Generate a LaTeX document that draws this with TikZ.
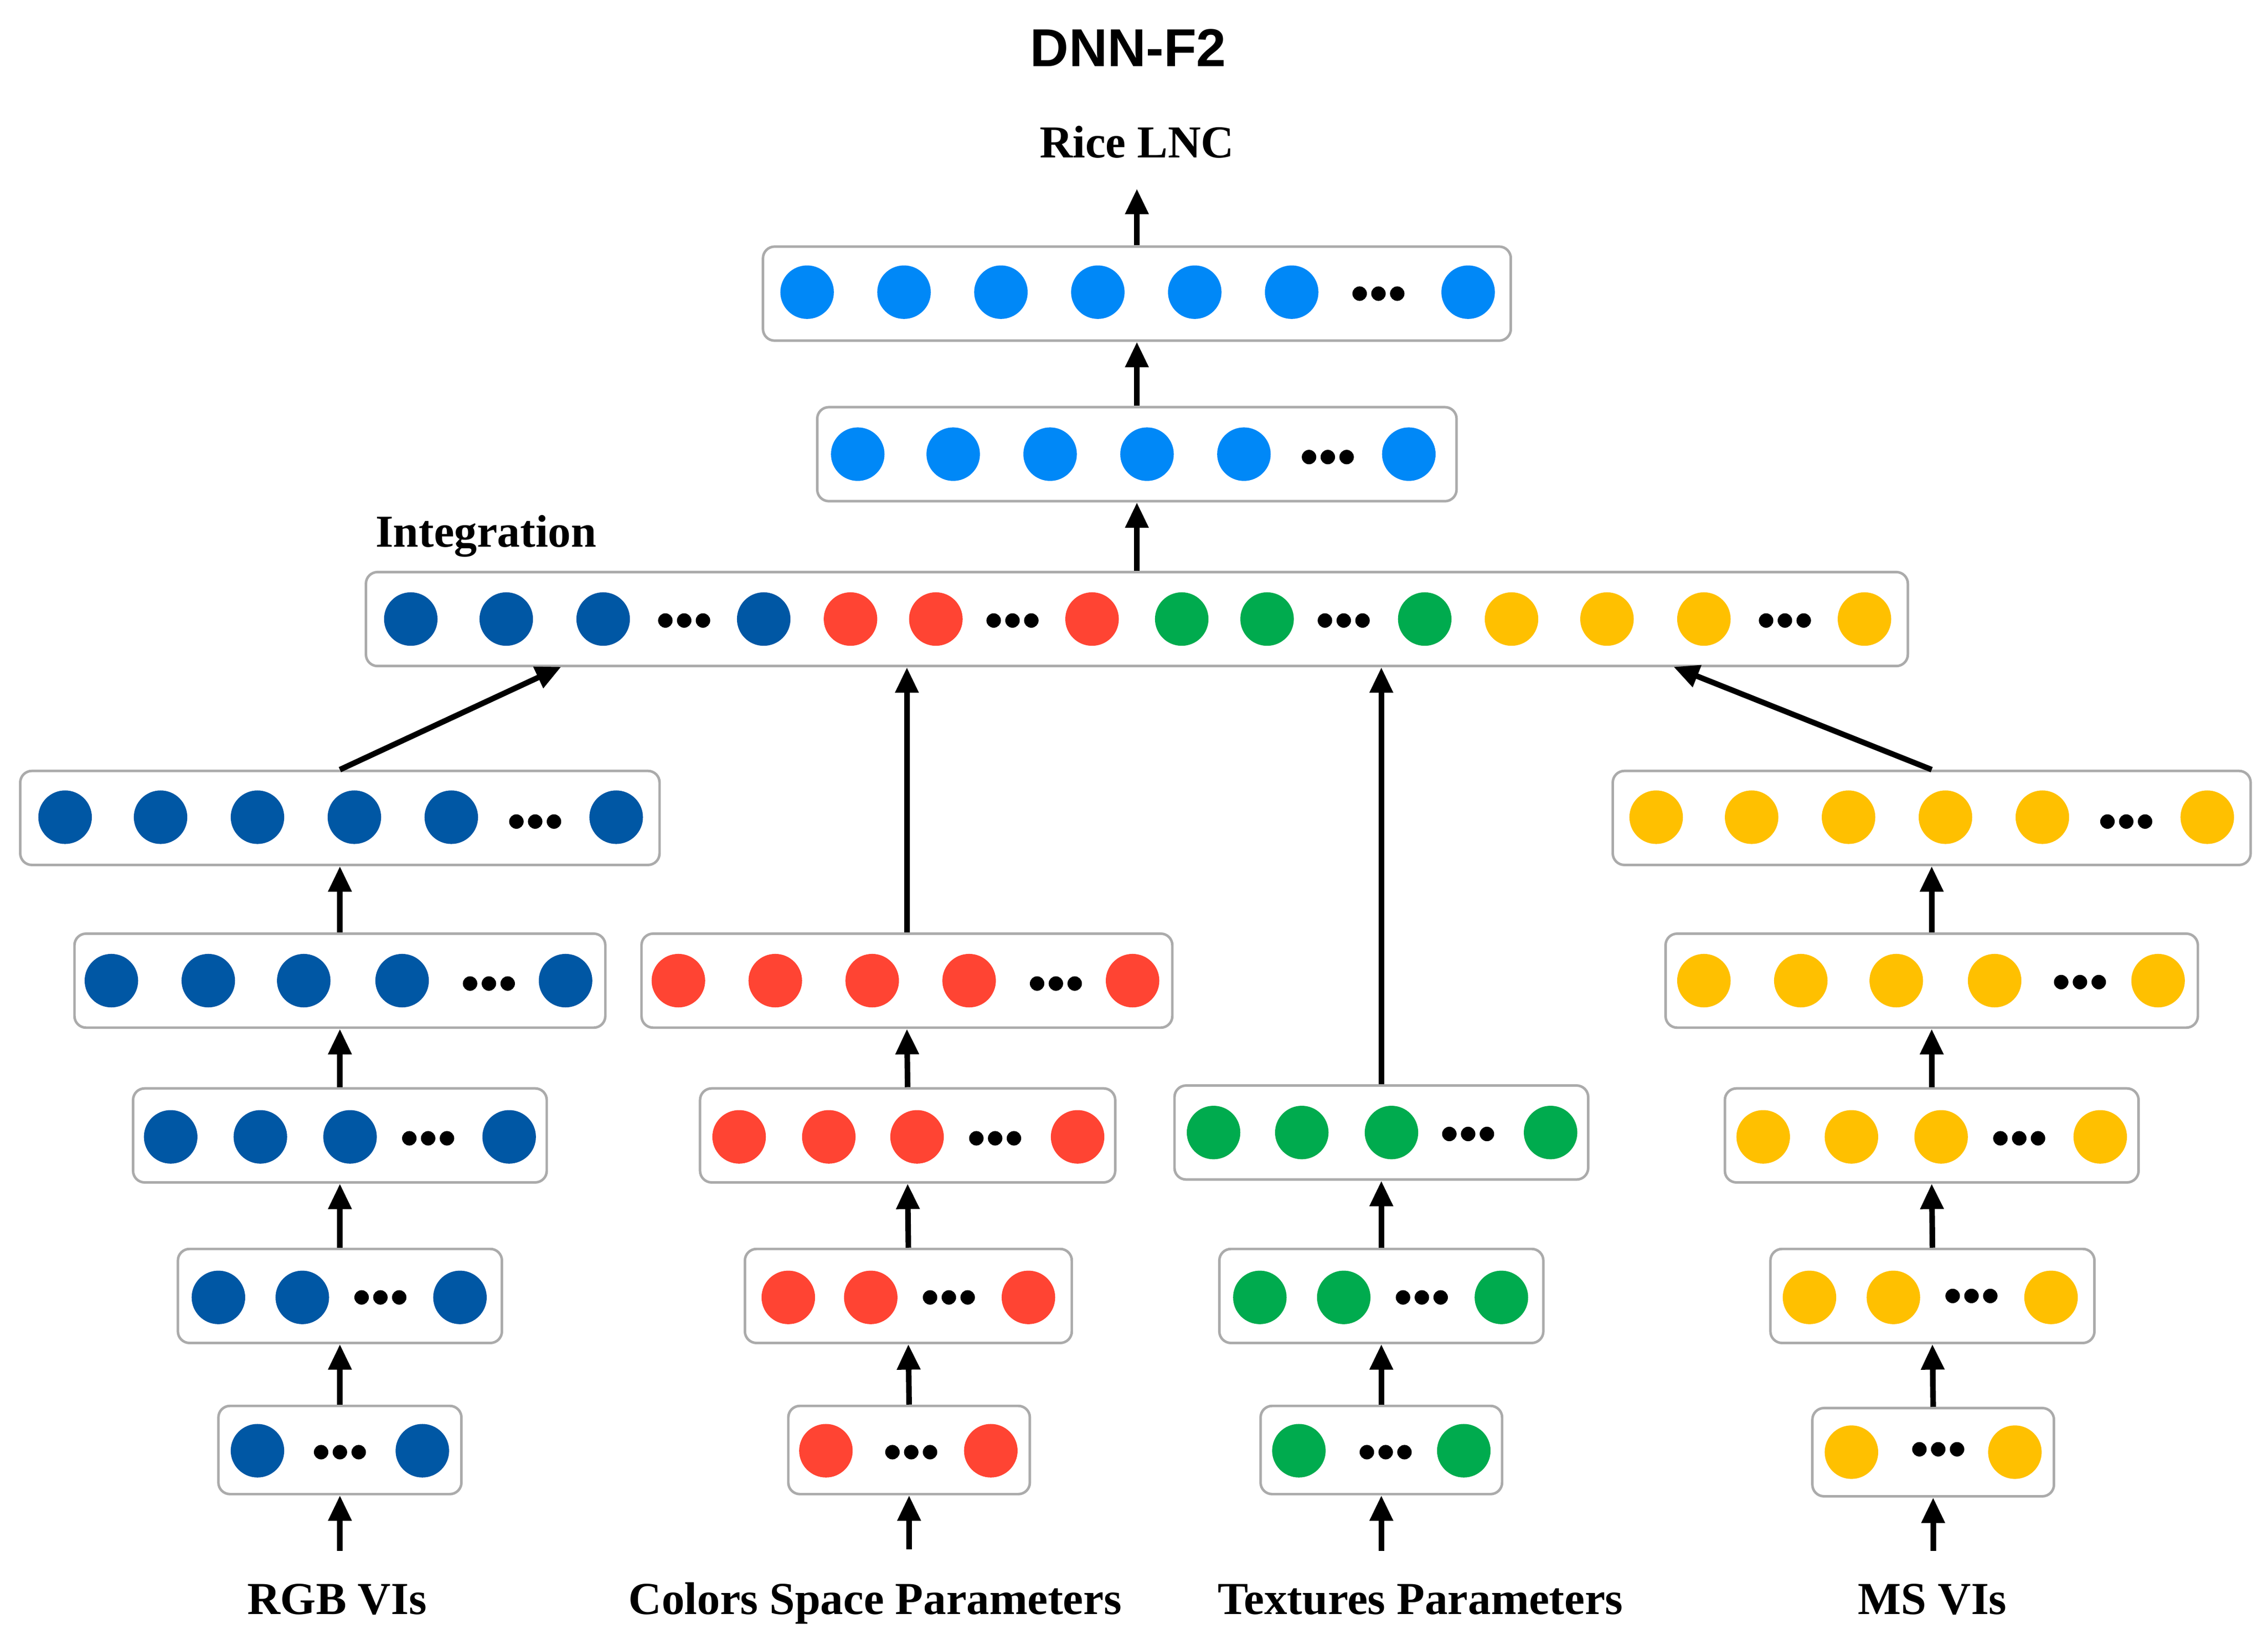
\documentclass[tikz,border=0pt]{standalone}
\usepackage{fontspec}
\setmainfont{Liberation Serif}
\newfontfamily\headfont{Liberation Sans}
\usetikzlibrary{arrows.meta}

\definecolor{rgbblue}{HTML}{0057A4}
\definecolor{outblue}{HTML}{0088F7}
\definecolor{colred}{HTML}{FF4433}
\definecolor{texgreen}{HTML}{00AB4E}
\definecolor{msyellow}{HTML}{FFC000}
\definecolor{boxgray}{HTML}{ABABAB}

\tikzset{
	layer/.style={draw=boxgray, line width=0.5pt, rounded corners=0.8mm, fill=white, inner sep=0pt, minimum height=6.5mm},
	unit/.style={circle, fill=#1, inner sep=0pt, minimum size=3.7mm},
	dot/.style={circle, fill=black, inner sep=0pt, minimum size=1mm},
	arr/.style={line width=1.1pt, -{Triangle[length=5pt,width=4.4pt]}},
	lab/.style={font=\fontsize{9pt}{11pt}\selectfont\bfseries, anchor=base},
}

\begin{document}
\begin{tikzpicture}[x=0.1mm, y=-0.1mm]
	\useasboundingbox (0,0) rectangle (1568,1129.4);

	% titles
	\node[font=\headfont\fontsize{10.5pt}{12pt}\selectfont\bfseries, anchor=base] (title) at (780,46) {DNN-F2};
	\node[lab] (lnc) at (786,109) {Rice LNC};
	\node[lab] (integ) at (336,378) {Integration};

	% layers
	\node[layer, minimum width=51.7mm] (out) at (786,203) {};
	\node[layer, minimum width=44.2mm] (hid) at (786,314) {};
	\node[layer, minimum width=106.6mm] (fuse) at (786,428) {};

	\node[layer, minimum width=44.2mm] (rgb5) at (235,565.5) {};
	\node[layer, minimum width=36.7mm] (rgb4) at (235,678) {};
	\node[layer, minimum width=28.6mm] (rgb3) at (235,785) {};
	\node[layer, minimum width=22.4mm] (rgb2) at (235,896) {};
	\node[layer, minimum width=16.8mm, minimum height=6.1mm] (rgb1) at (235,1002.5) {};

	\node[layer, minimum width=36.7mm] (col4) at (627,678) {};
	\node[layer, minimum width=28.7mm] (col3) at (627.5,785) {};
	\node[layer, minimum width=22.6mm] (col2) at (628,896) {};
	\node[layer, minimum width=16.7mm, minimum height=6.1mm] (col1) at (628.5,1002.5) {};

	\node[layer, minimum width=28.6mm] (tex3) at (955,783) {};
	\node[layer, minimum width=22.4mm] (tex2) at (955,896) {};
	\node[layer, minimum width=16.7mm, minimum height=6.1mm] (tex1) at (955,1002.5) {};

	\node[layer, minimum width=44.1mm] (ms5) at (1335.5,565.5) {};
	\node[layer, minimum width=36.8mm] (ms4) at (1335.5,678) {};
	\node[layer, minimum width=28.6mm] (ms3) at (1335.5,785) {};
	\node[layer, minimum width=22.4mm] (ms2) at (1336,896) {};
	\node[layer, minimum width=16.7mm, minimum height=6.1mm] (ms1) at (1336.5,1004) {};

	% units
	\foreach \x in {558,625,692,759,826,893,1015} \node[unit=outblue] (out-\x) at (\x,202) {};
	\foreach \d in {-13,0,13} \node[dot] (out-d\d) at (953+\d,203) {};
	\foreach \x in {593,659,726,793,860,974} \node[unit=outblue] (hid-\x) at (\x,314) {};
	\foreach \d in {-13,0,13} \node[dot] (hid-d\d) at (918+\d,316) {};

	\foreach \x in {284,350,417,528} \node[unit=rgbblue] (fuse-\x) at (\x,428) {};
	\foreach \x in {588,647,755} \node[unit=colred] (fuse-\x) at (\x,428) {};
	\foreach \x in {817,876,985} \node[unit=texgreen] (fuse-\x) at (\x,428) {};
	\foreach \x in {1045,1111,1178,1289} \node[unit=msyellow] (fuse-\x) at (\x,428) {};
	\foreach \c in {473,700,929,1234}
		\foreach \d in {-13,0,13} \node[dot] (fuse-\c-\d) at (\c+\d,429) {};

	\foreach \x in {45,111,178,245,312,426} \node[unit=rgbblue] (rgb5-\x) at (\x,565) {};
	\foreach \d in {-13,0,13} \node[dot] (rgb5-d\d) at (370+\d,568) {};
	\foreach \x in {77,144,210,278,391} \node[unit=rgbblue] (rgb4-\x) at (\x,678) {};
	\foreach \d in {-13,0,13} \node[dot] (rgb4-d\d) at (338+\d,680) {};
	\foreach \x in {118,180,242,352} \node[unit=rgbblue] (rgb3-\x) at (\x,786) {};
	\foreach \d in {-13,0,13} \node[dot] (rgb3-d\d) at (296+\d,787) {};
	\foreach \x in {151,209,318} \node[unit=rgbblue] (rgb2-\x) at (\x,897) {};
	\foreach \d in {-13,0,13} \node[dot] (rgb2-d\d) at (263+\d,897) {};
	\foreach \x in {178,292} \node[unit=rgbblue] (rgb1-\x) at (\x,1003) {};
	\foreach \d in {-13,0,13} \node[dot] (rgb1-d\d) at (235+\d,1004) {};

	\foreach \x in {469,536,603,670,783} \node[unit=colred] (col4-\x) at (\x,678) {};
	\foreach \d in {-13,0,13} \node[dot] (col4-d\d) at (730+\d,680) {};
	\foreach \x in {511,573,634,745} \node[unit=colred] (col3-\x) at (\x,786) {};
	\foreach \d in {-13,0,13} \node[dot] (col3-d\d) at (688+\d,787) {};
	\foreach \x in {545,602,711} \node[unit=colred] (col2-\x) at (\x,897) {};
	\foreach \d in {-13,0,13} \node[dot] (col2-d\d) at (656+\d,897) {};
	\foreach \x in {571,685} \node[unit=colred] (col1-\x) at (\x,1003) {};
	\foreach \d in {-13,0,13} \node[dot] (col1-d\d) at (630+\d,1004) {};

	\foreach \x in {839,900,962,1072} \node[unit=texgreen] (tex3-\x) at (\x,783) {};
	\foreach \d in {-13,0,13} \node[dot] (tex3-d\d) at (1015+\d,784) {};
	\foreach \x in {871,929,1038} \node[unit=texgreen] (tex2-\x) at (\x,897) {};
	\foreach \d in {-13,0,13} \node[dot] (tex2-d\d) at (983+\d,897) {};
	\foreach \x in {898,1012} \node[unit=texgreen] (tex1-\x) at (\x,1003) {};
	\foreach \d in {-13,0,13} \node[dot] (tex1-d\d) at (958+\d,1004) {};

	\foreach \x in {1145,1211,1278,1345,1412,1526} \node[unit=msyellow] (ms5-\x) at (\x,565) {};
	\foreach \d in {-13,0,13} \node[dot] (ms5-d\d) at (1470+\d,568) {};
	\foreach \x in {1178,1245,1311,1379,1492} \node[unit=msyellow] (ms4-\x) at (\x,678) {};
	\foreach \d in {-13,0,13} \node[dot] (ms4-d\d) at (1438+\d,679) {};
	\foreach \x in {1219,1280,1342,1452} \node[unit=msyellow] (ms3-\x) at (\x,786) {};
	\foreach \d in {-13,0,13} \node[dot] (ms3-d\d) at (1396+\d,787) {};
	\foreach \x in {1251,1309,1418} \node[unit=msyellow] (ms2-\x) at (\x,897) {};
	\foreach \d in {-13,0,13} \node[dot] (ms2-d\d) at (1363+\d,896) {};
	\foreach \x in {1280,1393} \node[unit=msyellow] (ms1-\x) at (\x,1004) {};
	\foreach \d in {-13,0,13} \node[dot] (ms1-d\d) at (1340+\d,1002) {};

	% inputs
	\node[lab] (rgblab) at (233,1116) {RGB VIs};
	\node[lab] (collab) at (605,1116) {Colors Space Parameters};
	\node[lab] (texlab) at (982,1116) {Textures Parameters};
	\node[lab] (mslab) at (1336,1116) {MS VIs};

	\coordinate (fuseL) at (388,461);
	\coordinate (fuseR) at (1157,461);

	% connections
	\draw[arr, shorten <=3pt] (rgb1.south |- rgblab.north) -- (rgb1.south);
	\draw[arr] (rgb1.north) -- (rgb2.south);
	\draw[arr] (rgb2.north) -- (rgb3.south);
	\draw[arr] (rgb3.north) -- (rgb4.south);
	\draw[arr] (rgb4.north) -- (rgb5.south);
	\draw[arr] (rgb5.north) -- (fuseL);

	\draw[arr, shorten <=3pt] (col1.south |- collab.north) -- (col1.south);
	\draw[arr] (col1.north) -- (col2.south);
	\draw[arr] (col2.north) -- (col3.south);
	\draw[arr] (col3.north) -- (col4.south);
	\draw[arr] (col4.north) -- (col4.north |- fuse.south);

	\draw[arr, shorten <=3pt] (tex1.south |- texlab.north) -- (tex1.south);
	\draw[arr] (tex1.north) -- (tex2.south);
	\draw[arr] (tex2.north) -- (tex3.south);
	\draw[arr] (tex3.north) -- (tex3.north |- fuse.south);

	\draw[arr, shorten <=3pt] (ms1.south |- mslab.north) -- (ms1.south);
	\draw[arr] (ms1.north) -- (ms2.south);
	\draw[arr] (ms2.north) -- (ms3.south);
	\draw[arr] (ms3.north) -- (ms4.south);
	\draw[arr] (ms4.north) -- (ms5.south);
	\draw[arr] (ms5.north) -- (fuseR);

	\draw[arr] (fuse.north) -- (hid.south);
	\draw[arr] (hid.north) -- (out.south);
	\draw[arr, shorten >=2.5pt] (out.north) -- (lnc.south);
\end{tikzpicture}
\end{document}
